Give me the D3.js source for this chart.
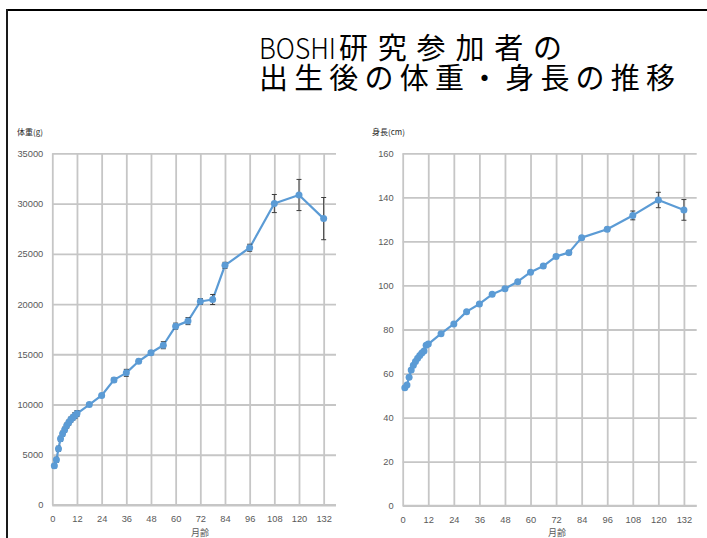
<!DOCTYPE html>
<html><head><meta charset="utf-8">
<script src="https://cdn.jsdelivr.net/npm/d3@7"></script>
<style>body{margin:0;background:#fff} svg{display:block}</style>
</head><body>
<script>
// ---- data ----
const months = [1,2,3,4,5,6,7,8,9,10,11,12,18,24,30,36,42,48,54,60,66,72,78,84,96,108,120,132];
const weight = [3900,4500,5600,6600,7100,7500,7900,8200,8500,8700,8900,9100,10000,10900,12450,13150,14300,15150,15900,17800,18300,20250,20450,23850,25600,30000,30850,28500];
const weightErr = [200,250,250,250,250,250,250,250,250,250,300,300,200,200,200,350,200,200,350,300,350,300,500,300,350,900,1550,2100];
const height = [53.6,54.8,58.3,61.6,63.8,65.5,67.0,68.2,69.3,70.2,72.8,73.4,78.1,82.5,88.1,91.6,96.0,98.5,101.7,106.0,108.8,113.2,114.9,121.7,125.5,131.8,138.8,134.3];
const heightErr = [0.5,0.5,0.5,0.5,0.5,0.5,0.5,0.5,0.5,0.5,0.6,0.6,0.6,0.6,0.6,0.6,0.6,0.6,0.7,0.7,0.8,0.8,1.0,0.8,0.9,2.0,3.5,4.7];
const xTicks = [0,12,24,36,48,60,72,84,96,108,120,132];
const weightTicks = [0,5000,10000,15000,20000,25000,30000,35000];
const heightTicks = [0,20,40,60,80,100,120,140,160];
const titleLine1a = "BOSHI";
const titleLine1b = "研究参加者の";
const titleLine2 = "出生後の体重・身長の推移";
const xTitle = "月齢";
const weightTitle = "体重(g)";
const heightTitle = "身長(cm)";

const W = 707, H = 538;
const svg = d3.select("body").append("svg").attr("width", W).attr("height", H);

// frame
svg.append("line").attr("x1", 6).attr("x2", W).attr("y1", 10).attr("y2", 10)
  .attr("stroke", "#000").attr("stroke-width", 2);
svg.append("line").attr("x1", 7).attr("x2", 7).attr("y1", 9).attr("y2", H)
  .attr("stroke", "#1a1a1a").attr("stroke-width", 2);

// title
const CJK = "'Noto Sans CJK JP','Noto Sans CJK SC',sans-serif";
const t1 = svg.append("text").attr("y", 58.5).attr("font-family", CJK).attr("fill", "#000");
t1.append("tspan").attr("x", 259).attr("font-size", 29).attr("font-weight", 300)
  .attr("textLength", 77).attr("lengthAdjust", "spacingAndGlyphs").text(titleLine1a);
t1.append("tspan").attr("x", 339).attr("font-size", 29)
  .attr("textLength", 223).attr("lengthAdjust", "spacing").text(titleLine1b);
svg.append("text").attr("x", 259).attr("y", 88.5).attr("font-family", CJK).attr("font-size", 29)
  .attr("fill", "#000").attr("textLength", 416).attr("lengthAdjust", "spacing").text(titleLine2);

function chart(o) {
  const x = d3.scaleLinear().domain([0, 138]).range([o.left, o.right]);
  const y = d3.scaleLinear().domain([0, o.yMax]).range([o.bottom, o.top]);
  const g = svg.append("g");
  const grid = "#c6c6c6";

  const ya = g.append("g").attr("transform", `translate(${o.left},0)`)
    .call(d3.axisLeft(y).tickValues(o.yTicks).tickSize(-(o.right - o.left)).tickPadding(9).tickFormat(d3.format("d")));
  ya.select(".domain").remove();
  ya.selectAll("line").attr("stroke", grid).attr("stroke-width", 1.8);
  ya.selectAll("text").attr("fill", "#595959").attr("font-size", 9.3).attr("font-family", "'Liberation Sans',Arial,sans-serif");

  const xa = g.append("g").attr("transform", `translate(0,${o.bottom})`)
    .call(d3.axisBottom(x).tickValues(xTicks).tickSize(-(o.bottom - o.top)).tickPadding(10.5));
  xa.select(".domain").attr("stroke", grid).attr("stroke-width", 1.8).attr("d", `M${o.left},0H${o.right}`);
  xa.selectAll("line").attr("stroke", grid).attr("stroke-width", 1.8);
  xa.selectAll("text").attr("fill", "#595959").attr("font-size", 9.3).attr("font-family", "'Liberation Sans',Arial,sans-serif");

  // titles
  g.append("text").attr("x", o.yTitleX).attr("y", 135).attr("font-family", CJK).attr("font-size", 8)
    .attr("fill", "#262626").text(o.yTitle);
  g.append("text").attr("x", o.xTitleX).attr("y", 536).attr("text-anchor", "middle").attr("font-family", CJK)
    .attr("font-size", 9).attr("fill", "#595959").text(xTitle);

  const pts = months.map((m, i) => ({ m, v: o.values[i], e: o.errs[i] }));
  // line
  g.append("path").datum(pts)
    .attr("d", d3.line().x(d => x(d.m)).y(d => y(d.v)))
    .attr("fill", "none").attr("stroke", "#5b9bd5").attr("stroke-width", 2.2).attr("stroke-linejoin", "round");
  // error bars
  const eb = g.selectAll(".eb").data(pts).join("g").attr("stroke", "#3c3c3c").attr("stroke-width", 1);
  eb.append("line").attr("x1", d => x(d.m)).attr("x2", d => x(d.m))
    .attr("y1", d => y(d.v - d.e)).attr("y2", d => y(d.v + d.e));
  eb.append("line").attr("x1", d => x(d.m) - 2.5).attr("x2", d => x(d.m) + 2.5)
    .attr("y1", d => y(d.v + d.e)).attr("y2", d => y(d.v + d.e));
  eb.append("line").attr("x1", d => x(d.m) - 2.5).attr("x2", d => x(d.m) + 2.5)
    .attr("y1", d => y(d.v - d.e)).attr("y2", d => y(d.v - d.e));
  // markers
  g.selectAll(".pt").data(pts).join("circle")
    .attr("cx", d => x(d.m)).attr("cy", d => y(d.v)).attr("r", 3.5).attr("fill", "#5b9bd5");
}

chart({ left: 52.3, right: 336, top: 153.3, bottom: 505, yMax: 35000, yTicks: weightTicks,
  values: weight, errs: weightErr, yTitle: weightTitle, yTitleX: 17, xTitleX: 200 });
chart({ left: 402.7, right: 696.7, top: 153.3, bottom: 505.7, yMax: 160, yTicks: heightTicks,
  values: height, errs: heightErr, yTitle: heightTitle, yTitleX: 372, xTitleX: 557 });
</script>
</body></html>
